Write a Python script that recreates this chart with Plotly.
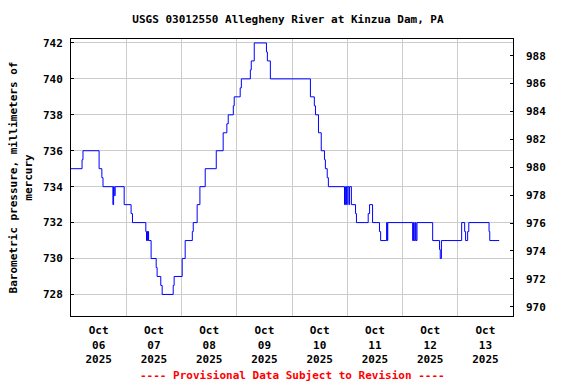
import datetime as dt
import plotly.graph_objects as go

# Hours since 2025-10-06 00:00 and barometric pressure (mm Hg), step data
hours = [0, 4.8, 5.2, 12.2, 13.4, 13.9, 18.2, 18.5, 18.8, 19.2, 23.1, 26.1, 26.7,
         32.5, 32.8, 33.0, 33.3, 33.5, 33.7, 34.8, 37.0, 37.4, 39.0, 39.6, 44.4, 44.8,
         48.3, 49.6, 52.7, 53.1, 54.8, 56.0, 58.3, 63.1, 66.1, 67.7, 68.3, 70.5, 70.9,
         73.5, 74.0, 77.9, 78.3, 79.6, 84.9, 85.3, 86.6, 104.0, 105.7, 106.2, 107.5,
         108.7, 110.1, 110.5, 111.3, 111.8, 118.8, 119.2, 119.7, 120.0, 120.7, 121.0,
         121.8, 123.6, 124.0, 129.1, 129.7, 131.0, 134.0, 134.5, 137.1, 137.4, 137.6,
         148.4, 148.8, 149.1, 149.6, 149.9, 150.3, 157.1, 160.1, 160.4, 160.9, 169.7,
         171.0, 171.4, 172.3, 172.8, 181.6, 181.9, 186.0]
pressure = [735, 735.5, 736, 735, 734.5, 734, 733, 734, 733.5, 734, 733, 732.5, 732,
            731.5, 731, 731.5, 731, 731.5, 731, 730, 729.5, 729, 728.5, 728, 728.5, 729,
            730, 731, 731.5, 732, 733, 734, 735, 736, 737, 737.5, 738, 738.5, 739,
            739.5, 740, 740.5, 741, 742, 741.5, 741, 740, 739, 738.5, 738, 737,
            736, 735.5, 735, 734.5, 734, 733, 734, 733, 734, 733, 734,
            733, 732.5, 732, 732.5, 733, 732, 731.5, 731, 732, 731, 732,
            731, 732, 731, 732, 731, 732, 731, 730.5, 730, 731, 732,
            731.5, 731, 731.5, 732, 731.5, 731, 731]

day_labels = ["Oct<br>06<br>2025", "Oct<br>07<br>2025", "Oct<br>08<br>2025", "Oct<br>09<br>2025",
              "Oct<br>10<br>2025", "Oct<br>11<br>2025", "Oct<br>12<br>2025", "Oct<br>13<br>2025"]
left_ticks = [728, 730, 732, 734, 736, 738, 740, 742]
right_ticks = [970, 972, 974, 976, 978, 980, 982, 984, 986, 988]

base = dt.datetime(2025, 10, 6)
times = [base + dt.timedelta(hours=h) for h in hours]
noon_ticks = [base + dt.timedelta(days=i, hours=12) for i in range(len(day_labels))]

FONT = "DejaVu Sans Mono"

fig = go.Figure()
fig.add_trace(go.Scatter(x=times, y=pressure, mode="lines", line=dict(color="#0000ff", width=1, shape="hv"),
                         showlegend=False, hoverinfo="skip"))
# invisible trace for right axis
fig.add_trace(go.Scatter(x=[times[0]], y=[980], yaxis="y2", mode="markers", marker=dict(opacity=0),
                         showlegend=False, hoverinfo="skip"))

fig.update_layout(
    width=576, height=384,
    margin=dict(l=71, r=63, t=39, b=68),
    paper_bgcolor="white", plot_bgcolor="white",
    font=dict(family=FONT, size=11, color="black", weight="bold"),
    title=dict(text="USGS 03012550 Allegheny River at Kinzua Dam, PA", x=0.5, xanchor="center",
               y=1 - 19 / 384, yref="container", yanchor="middle",
               font=dict(family=FONT, size=11, color="black", weight="bold")),
    xaxis=dict(
        type="date",
        range=[base, base + dt.timedelta(days=8)],
        tickmode="array", tickvals=noon_ticks, ticktext=day_labels,
        showgrid=False, ticks="", showline=True, linecolor="black", linewidth=1, mirror=True,
        minor=dict(tick0=base, dtick=86400000, showgrid=True, gridcolor="#cccccc", gridwidth=1, ticks=""),
        zeroline=False, automargin=False, ticklabelstandoff=4,
    ),
    yaxis=dict(
        range=[726.8, 742.22], tickmode="array", tickvals=left_ticks,
        showgrid=True, gridcolor="#cccccc", gridwidth=1,
        ticks="inside", ticklen=3, tickcolor="black",
        showline=True, linecolor="black", linewidth=1, mirror=True, zeroline=False,
        ticklabelstandoff=5, automargin=False,
        title=dict(text="Barometric pressure, millimeters of<br>mercury", standoff=8,
                   font=dict(family=FONT, size=11, weight="bold")),
    ),
    yaxis2=dict(
        range=[969.33, 989.2], tickmode="array", tickvals=right_ticks,
        overlaying="y", side="right", showgrid=False, zeroline=False,
        ticks="inside", ticklen=3, tickcolor="black", ticklabelstandoff=12, automargin=False,
    ),
    annotations=[dict(text="---- Provisional Data Subject to Revision ----", x=0.5, xref="paper",
                      y=-(375 - 316) / 277, yref="paper", xanchor="center", yanchor="middle",
                      showarrow=False, font=dict(family=FONT, size=11, color="red", weight="bold"))],
)

fig.write_html("out.html", config={"displayModeBar": False},
               post_script="document.body.style.margin='0';document.body.style.padding='0';")
